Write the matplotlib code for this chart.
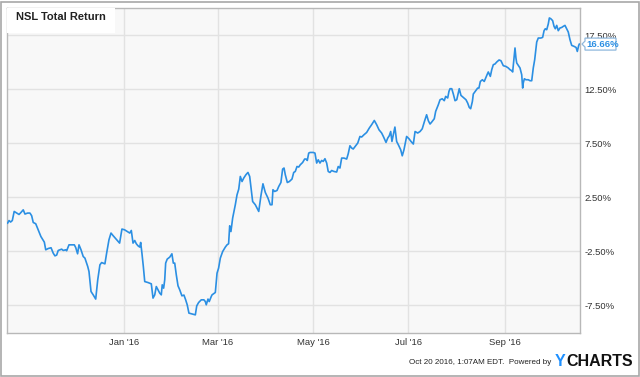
import matplotlib
matplotlib.use("Agg")
import matplotlib.pyplot as plt
import numpy as np
import pandas as pd
from matplotlib.patches import Rectangle, Polygon

# ---- data: day offset from 2016-01-01, total return (%) ----
days = [-74.5, -73.6, -72.6, -71.5, -70.3, -68.7, -67.2, -66.0, -64.5, -63.4,
        -61.7, -60.2, -59.1, -58.1, -56.5, -54.9, -53.2, -51.0, -50.1, -48.5,
        -46.7, -45.3, -44.2, -43.1, -42.1, -39.9, -38.9, -37.3, -36.7, -35.2,
        -33.5, -31.8, -30.9, -29.7, -28.8, -27.5, -26.1, -25.0, -23.2, -22.4,
        -21.1, -19.7, -18.1, -16.8, -15.4, -14.3, -12.2, -11.1, -9.6, -8.3,
        -6.9, -4.7, -2.8, -1.3, 0.4, 2.1, 3.7, 4.7, 5.8, 6.9,
        7.9, 9.0, 10.1, 10.7, 11.5, 12.4, 13.3, 15.4, 17.5, 18.6,
        19.7, 20.7, 21.8, 22.9, 23.9, 24.5, 25.4, 26.1, 26.7, 27.7,
        29.3, 30.7, 31.6, 32.5, 33.5, 34.6, 35.7, 37.1, 38.4, 39.5,
        40.5, 41.6, 43.5, 45.7, 46.6, 47.8, 49.5, 51.2, 52.1, 52.7,
        53.8, 54.6, 55.9, 56.4, 58.5, 59.6, 60.6, 61.7, 63.2, 64.9,
        66.0, 67.0, 67.7, 68.5, 69.6, 71.3, 72.4, 73.5, 74.5, 75.6,
        76.7, 78.1, 79.4, 80.5, 81.5, 82.4, 84.1, 85.2, 86.3, 87.7,
        89.0, 90.5, 92.2, 93.7, 94.8, 95.4, 96.5, 98.0, 99.1, 100.5,
        101.6, 102.5, 103.3, 104.6, 105.9, 107.6, 108.7, 109.7, 110.8, 111.9,
        112.9, 114.4, 115.7, 116.6, 117.4, 118.3, 119.1, 121.2, 122.3, 123.4,
        124.4, 125.5, 126.6, 127.6, 128.7, 129.8, 130.8, 131.9, 133.0, 134.5,
        136.2, 137.2, 138.3, 139.4, 140.9, 142.6, 143.6, 144.7, 145.8, 146.8,
        148.4, 149.7, 151.1, 152.2, 153.7, 155.4, 157.1, 158.6, 160.3, 161.8,
        163.3, 165.0, 166.1, 167.8, 168.9, 169.9, 170.8, 171.6, 172.5, 173.5,
        174.6, 175.7, 177.2, 178.2, 179.3, 181.0, 182.5, 183.8, 185.3, 186.4,
        188.1, 189.6, 191.0, 192.3, 193.8, 194.9, 196.0, 197.1, 198.7, 199.6,
        201.3, 202.4, 203.8, 205.1, 206.0, 207.3, 208.1, 208.8, 209.9, 210.9,
        212.0, 213.1, 214.1, 214.7, 215.8, 217.3, 219.0, 220.1, 221.1, 222.0,
        223.1, 223.7, 225.2, 226.5, 227.3, 228.2, 229.5, 230.7, 231.6, 232.7,
        233.3, 234.6, 235.5, 236.5, 237.6, 238.7, 240.2, 241.4, 242.9, 244.6,
        246.1, 247.2, 248.3, 248.9, 249.8, 250.4, 251.0, 251.5, 252.5, 253.6,
        254.7, 255.3, 255.7, 256.4, 257.4, 258.9, 260.0, 261.1, 262.1, 263.0,
        264.3, 265.3, 266.9, 268.1, 269.0, 269.8, 270.7, 271.7, 272.4, 273.3,
        274.5, 275.4, 276.2, 277.1, 278.1, 279.2, 280.3, 281.3, 282.4, 283.5,
        284.5, 285.6, 286.7, 288.2, 289.5, 290.3, 291.2, 291.6]

returns = [0.09, 0.33, 0.19, 0.33, 1.17, 1.02, 0.89, 1.07, 1.32, 0.93,
           1.02, 1.02, 0.77, 0.15, 0.03, -0.53, -1.15, -1.67, -2.38, -2.26,
           -2.19, -2.69, -2.94, -2.87, -2.44, -2.32, -2.44, -2.38, -2.47, -1.92,
           -1.92, -1.92, -2.17, -2.75, -1.92, -2.38, -3.00, -3.15, -3.93, -4.39,
           -6.24, -6.55, -6.94, -5.16, -3.77, -3.56, -3.68, -2.69, -1.45, -0.83,
           -1.08, -1.45, -1.76, -0.46, -0.53, -0.69, -0.83, -0.59, -1.76, -1.52,
           -1.82, -2.01, -2.13, -1.70, -2.69, -3.93, -5.32, -5.41, -5.53, -6.85,
           -6.55, -5.78, -6.08, -6.39, -6.55, -5.62, -5.93, -5.16, -3.61, -3.24,
           -3.06, -2.75, -3.61, -3.61, -4.69, -5.71, -6.08, -6.64, -6.57, -7.01,
           -7.47, -8.24, -8.31, -8.40, -7.57, -7.26, -7.01, -7.01, -7.17, -7.47,
           -6.94, -7.17, -6.70, -6.55, -6.33, -4.54, -4.07, -3.15, -2.54, -2.13,
           -1.92, -1.82, -0.16, -0.69, 0.56, 1.79, 2.71, 3.24, 4.41, 3.94,
           4.26, 4.57, 4.78, 4.41, 3.18, 2.09, 1.79, 1.48, 1.17, 2.62,
           3.73, 2.93, 2.41, 1.79, 1.79, 3.18, 3.02, 3.11, 3.48, 3.85,
           5.09, 5.19, 4.57, 3.85, 3.94, 4.17, 4.78, 4.87, 5.33, 5.28,
           5.49, 5.70, 6.02, 6.02, 5.89, 6.57, 6.63, 6.63, 6.57, 5.65,
           5.95, 5.65, 5.89, 5.80, 6.05, 5.65, 4.87, 4.78, 4.96, 4.87,
           4.82, 5.33, 5.19, 6.11, 6.11, 6.02, 6.51, 7.25, 7.04, 6.95,
           7.25, 7.50, 8.11, 8.06, 8.27, 8.48, 8.89, 9.20, 9.59, 9.20,
           8.73, 8.43, 8.11, 7.56, 7.96, 8.18, 8.57, 7.65, 8.27, 8.98,
           7.65, 7.34, 6.88, 6.32, 6.88, 8.11, 7.90, 7.65, 7.41, 8.57,
           8.43, 8.57, 8.82, 9.45, 10.12, 9.57, 9.26, 9.45, 9.75, 10.43,
           11.05, 11.51, 11.60, 11.42, 11.82, 11.67, 12.28, 12.53, 12.53, 12.04,
           11.42, 11.51, 12.13, 12.53, 11.91, 11.72, 11.51, 11.20, 10.80, 10.68,
           11.35, 12.04, 12.34, 12.59, 12.59, 13.20, 13.36, 13.20, 13.52, 13.89,
           14.08, 13.67, 14.29, 14.75, 14.82, 15.00, 15.19, 15.12, 14.66, 14.59,
           14.45, 14.29, 14.20, 14.08, 15.43, 16.30, 15.37, 14.91, 14.69, 14.45,
           13.82, 12.59, 13.06, 13.45, 13.36, 13.36, 13.27, 13.27, 14.45, 15.21,
           16.85, 17.22, 17.22, 17.28, 17.90, 18.08, 17.99, 18.52, 19.08, 19.01,
           18.83, 18.30, 18.08, 18.39, 17.90, 18.15, 18.20, 18.30, 18.39, 18.08,
           17.78, 17.07, 16.54, 16.45, 16.35, 15.98, 16.54, 16.66]

x_ticks = ["2016-01-01", "2016-03-01", "2016-05-01", "2016-07-01", "2016-09-01"]
x_tick_labels = ["Jan '16", "Mar '16", "May '16", "Jul '16", "Sep '16"]
y_ticks = [-7.5, -2.5, 2.5, 7.5, 12.5, 17.5]
y_tick_labels = ["-7.50%", "-2.50%", "2.50%", "7.50%", "12.50%", "17.50%"]
title = "NSL Total Return"
last_label = "16.66%"
footer = "Oct 20 2016, 1:07AM EDT.  Powered by"

base = pd.Timestamp("2016-01-01")
dates = base + pd.to_timedelta(days, unit="D")

plt.rcParams["font.family"] = ["Liberation Sans", "DejaVu Sans"]

W, H = 640, 377
fig = plt.figure(figsize=(W / 100, H / 100), dpi=100)
fig.patch.set_facecolor("white")

# axes placement in pixels
L, R, T, B = 7, 579.5, 8, 333
ax = fig.add_axes([L / W, (H - B) / H, (R - L) / W, (B - T) / H])
ax.set_facecolor("#f8f8f8")

line_color = "#2b8fe3"
ax.plot(dates, returns, color=line_color, lw=1.2, solid_joinstyle="round", zorder=3)

ax.set_xlim(base + pd.Timedelta(days=-74.9), base + pd.Timedelta(days=291.7))
ax.set_ylim(-10.08, 20.0)

ax.set_xticks(pd.to_datetime(x_ticks))
ax.set_xticklabels(x_tick_labels)
ax.set_yticks(y_ticks)
ax.set_yticklabels(y_tick_labels)
ax.yaxis.tick_right()
ax.tick_params(axis="both", length=0, labelsize=6.8, colors="#333333")
ax.tick_params(axis="y", pad=3.5)
ax.tick_params(axis="x", pad=3.5)
ax.grid(True, color="#e2e2e2", lw=1.0)
ax.set_axisbelow(True)
for s in ax.spines.values():
    s.set_color("#b8b8b8")
    s.set_linewidth(1.0)

# title box
ax.add_patch(Rectangle((0, 1 - 25 / 325), 108 / 572.5, 25 / 325, transform=ax.transAxes,
                       facecolor="white", edgecolor="none", zorder=4))
ax.text(9 / 572.5, 1 - 9.5 / 325, title, transform=ax.transAxes, ha="left", va="center",
        fontsize=8, fontweight="bold", color="#222222", zorder=5)

# last value tag
fig.canvas.draw()
px, py = ax.transData.transform((ax.get_xlim()[1], returns[-1]))
x0, h = R + 2.5, 6.0
tag = [(x0, py), (x0 + 3, py + 3), (x0 + 3, py + h), (x0 + 34, py + h),
       (x0 + 34, py - h), (x0 + 3, py - h), (x0 + 3, py - 3)]
fig.add_artist(Polygon(tag, closed=True, transform=None, facecolor="white",
                       edgecolor="#8fb8dc", lw=0.9, zorder=6))
fig.text((x0 + 4.5) / W, py / H, last_label, ha="left", va="center", fontsize=6.8,
         fontweight="bold", color=line_color, zorder=7)

# footer
fig.text(551 / W, (H - 363) / H, footer, ha="right", va="center", fontsize=5.8,
         color="#222222")
fig.text(555 / W, (H - 362) / H, "Y", ha="left", va="center", fontsize=11.5,
         fontweight="bold", color="#1e90ff")
fig.text(566 / W, (H - 362) / H, "CHARTS", ha="left", va="center", fontsize=11.5,
         fontweight="bold", color="#111111")

# outer frame
fig.add_artist(Rectangle((1 / W, 1 / H), (W - 2.5) / W, (H - 2.5) / H, transform=fig.transFigure,
                         facecolor="none", edgecolor="#a8a8a8", lw=1.2))

fig.savefig("out.png", dpi=100)
